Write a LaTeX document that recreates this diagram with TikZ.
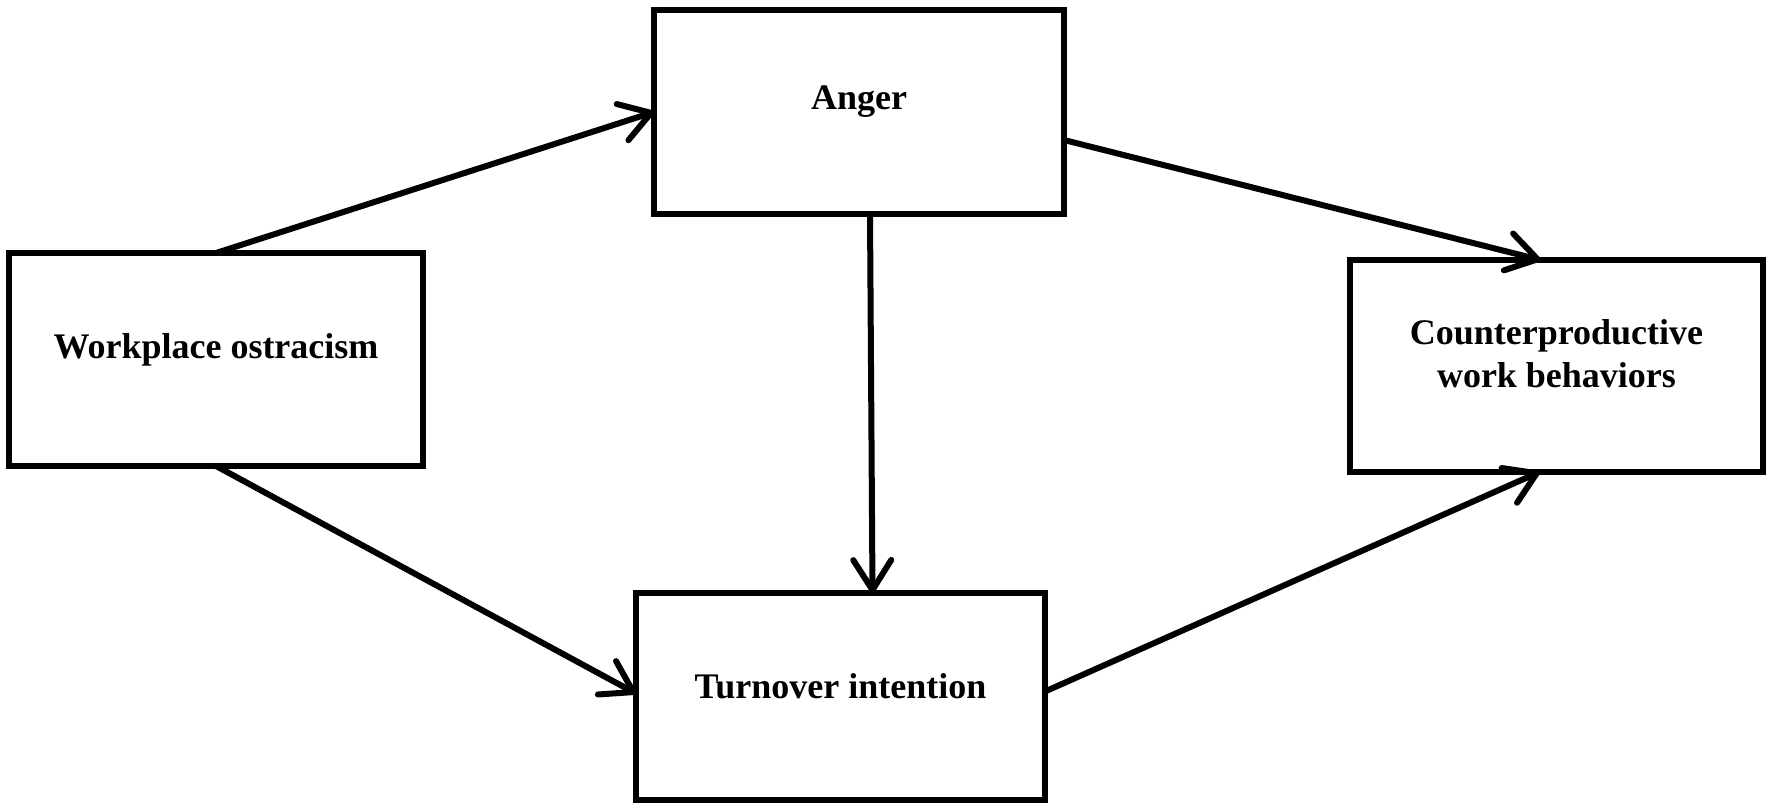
\documentclass[tikz,border=0pt]{standalone}
\usepackage{fontspec}
\setmainfont{Liberation Serif}
\usetikzlibrary{arrows.meta}
\begin{document}
\begin{tikzpicture}[x=1pt,y=-1pt,
  box/.style={draw=black, line width=5.5pt, rectangle, inner sep=0pt, outer sep=0pt, fill=white},
  lbl/.style={font=\fontsize{36}{43}\selectfont\bfseries, align=center, inner sep=0pt},
  conn/.style={line width=6pt, line cap=round, -{Straight Barb[length=30pt,width=38pt,line width=6pt,line cap=round,line join=round]}}]
\useasboundingbox (0,0) rectangle (1772,811);
\fill[white] (0,0) rectangle (1772,811);
\node[box, minimum width=410pt, minimum height=204pt] (ang) at (859,112) {};
\node[box, minimum width=414pt, minimum height=213pt] (wo) at (216,359.5) {};
\node[box, minimum width=413pt, minimum height=212pt] (cwb) at (1556.5,366) {};
\node[box, minimum width=409pt, minimum height=207pt] (tov) at (840.5,696.5) {};
\node[lbl] (tang) at ([yshift=10pt]ang.center) {Anger};
\node[lbl] (two) at ([yshift=10pt]wo.center) {Workplace ostracism};
\node[lbl] (tcwb) at ([yshift=12pt]cwb.center) {Counterproductive\\work behaviors};
\node[lbl] (ttov) at ([yshift=10pt]tov.center) {Turnover intention};
\draw[conn] (wo.north) -- (ang.west);
\draw[conn] ([yshift=-28pt]ang.east) -- ([xshift=-16pt]cwb.north);
\draw[conn] ([xshift=11pt]ang.south) -- ([xshift=32pt]tov.north);
\draw[conn] (wo.south) -- ([yshift=3pt]tov.west);
\draw[conn] ([yshift=5pt]tov.east) -- ([xshift=-17pt]cwb.south);
\end{tikzpicture}
\end{document}
